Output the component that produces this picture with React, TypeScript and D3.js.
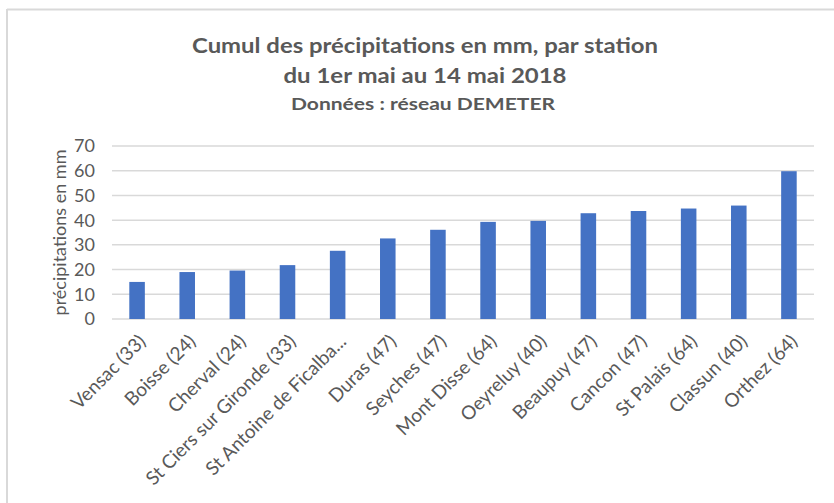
import React from "react";
import * as d3 from "d3";

const stations = [
  "Vensac (33)",
  "Boisse (24)",
  "Cherval (24)",
  "St Ciers sur Gironde (33)",
  "St Antoine de Ficalba...",
  "Duras (47)",
  "Seyches (47)",
  "Mont Disse (64)",
  "Oeyreluy (40)",
  "Beaupuy (47)",
  "Cancon (47)",
  "St Palais (64)",
  "Classun (40)",
  "Orthez (64)",
];
const precipitations = [15.0, 19.0, 19.6, 21.8, 27.6, 32.6, 36.1, 39.3, 39.7, 42.8, 43.7, 44.7, 45.9, 59.8];
const yTicks = [0, 10, 20, 30, 40, 50, 60, 70];
const titleLines = ["Cumul des précipitations en mm, par station", "du 1er mai au 14 mai 2018"];
const subtitle = "Données : réseau DEMETER";
const yAxisTitle = "précipitations en mm";

const W = 834;
const H = 503;
const FONT = "Lato, 'Open Sans', sans-serif";
const GREY = "#595959";

export default function App() {
  const x = d3.scaleBand<string>().domain(stations).range([112, 814]).paddingInner(0.69).paddingOuter(0.345);
  const y = d3.scaleLinear().domain([0, 70]).range([319, 146]);

  return (
    <svg width={W} height={H} style={{ position: "absolute", left: 0, top: 0, background: "#fff" }}>
      <rect x={0} y={0} width={W} height={H} fill="#fff" />
      <line x1={7} x2={W} y1={9.5} y2={9.5} stroke="#d9d9d9" strokeWidth={2} />
      <line x1={7} x2={7} y1={9} y2={H} stroke="#d9d9d9" strokeWidth={2} />

      <text x={425} y={53} textAnchor="middle" fontFamily={FONT} fontWeight={700} fontSize={21} fill={GREY}
        textLength={466} lengthAdjust="spacingAndGlyphs">
        {titleLines[0]}
      </text>
      <text x={425} y={83} textAnchor="middle" fontFamily={FONT} fontWeight={700} fontSize={21} fill={GREY}
        textLength={283} lengthAdjust="spacingAndGlyphs">
        {titleLines[1]}
      </text>
      <text x={423} y={110} textAnchor="middle" fontFamily={FONT} fontWeight={700} fontSize={17} fill={GREY}
        textLength={264} lengthAdjust="spacingAndGlyphs">
        {subtitle}
      </text>

      {yTicks.map((t) => (
        <g key={t}>
          <line x1={112} x2={814} y1={y(t)} y2={y(t)} stroke="#d9d9d9" strokeWidth={1.5} />
          <text x={95} y={y(t)} dy="0.36em" textAnchor="end" fontFamily={FONT} fontSize={18} fill={GREY}>
            {t}
          </text>
        </g>
      ))}

      <text
        transform={`translate(60, ${y(35)}) rotate(-90)`}
        textAnchor="middle"
        dy="0.35em"
        fontFamily={FONT}
        fontSize={18}
        fill={GREY}
      >
        {yAxisTitle}
      </text>

      {stations.map((s, i) => (
        <rect
          key={s}
          x={x(s)!}
          y={y(precipitations[i])}
          width={x.bandwidth()}
          height={y(0) - y(precipitations[i])}
          fill="#4472c4"
        />
      ))}

      {stations.map((s) => {
        const cx = x(s)! + x.bandwidth() / 2 + 5;
        const cy = 338;
        return (
          <text
            key={s}
            transform={`translate(${cx}, ${cy}) rotate(-45)`}
            textAnchor="end"
            dy="0.35em"
            fontFamily={FONT}
            fontSize={19}
            fill={GREY}
          >
            {s}
          </text>
        );
      })}
    </svg>
  );
}
